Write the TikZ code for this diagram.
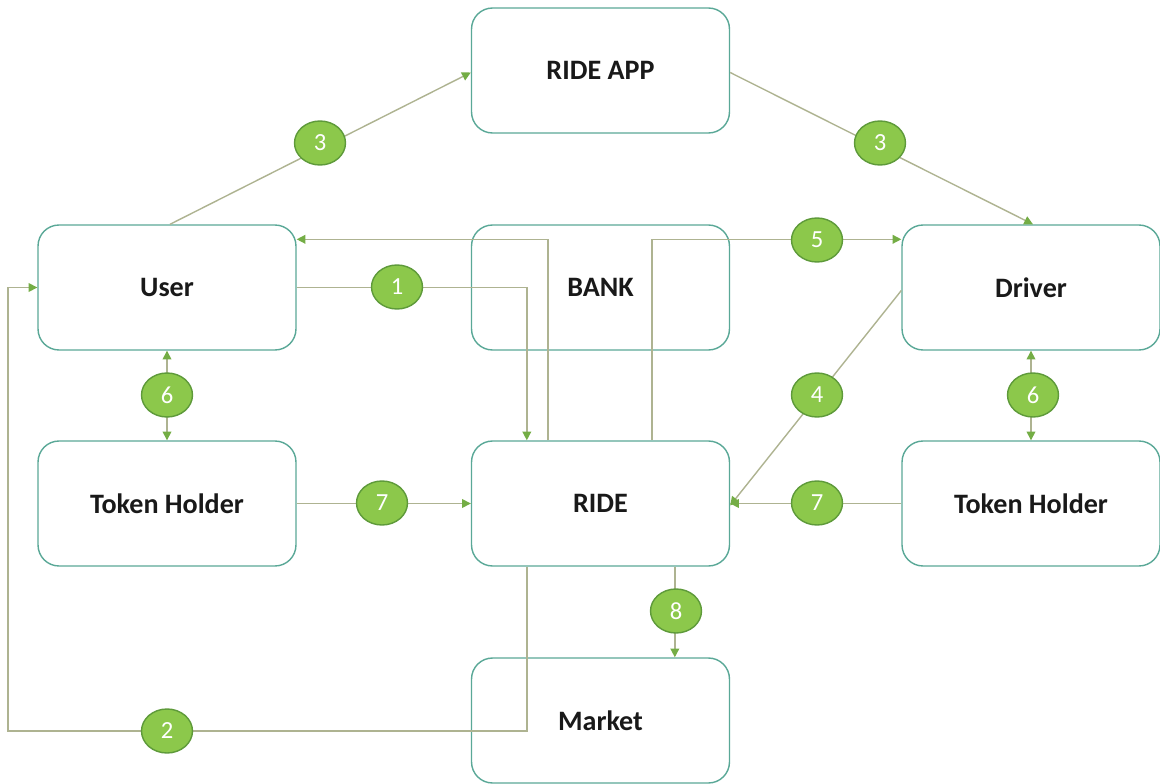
\documentclass[tikz,border=0pt]{standalone}
\usepackage{fontspec}
\setmainfont{Carlito}
\usetikzlibrary{shapes.geometric,arrows.meta,calc}
\definecolor{boxc}{HTML}{5AA897}
\definecolor{linec}{HTML}{AEB391}
\definecolor{tipc}{HTML}{74AD45}
\definecolor{badgef}{HTML}{8CC84B}
\definecolor{badged}{HTML}{5E9A3A}
\tikzset{
  box/.style={draw=boxc, line width=0.8pt, rounded corners=0.42cm, minimum width=5.16cm, minimum height=2.5cm, font=\fontsize{16}{18}\selectfont\bfseries, text=black!90},
  conn/.style={draw=linec, line width=0.8pt},
  tip/.style={-{Triangle[length=5pt,width=5pt,color=tipc]}},
  dtip/.style={{Triangle[length=5pt,width=5pt,color=tipc]}-{Triangle[length=5pt,width=5pt,color=tipc]}},
  badge/.style={ellipse, draw=badged, fill=badgef, line width=0.8pt, minimum width=1.02cm, minimum height=0.88cm, inner sep=0pt, text=white, font=\fontsize{14}{16}\selectfont}
}
\begin{document}
\begin{tikzpicture}[x=0.02cm, y=-0.02cm]
\useasboundingbox (0,0) rectangle (1160,784);
\node[box] (app) at (600.5,70.5) {RIDE APP};
\node[box] (user) at (167,287.5) {User};
\node[box] (bank) at (600.5,287.5) {BANK};
\node[box] (driver) at (1031,287.5) {Driver};
\node[box] (thl) at (167,503.5) {Token Holder};
\node[box] (ride) at (600.5,503.5) {RIDE};
\node[box] (thr) at (1031,503.5) {Token Holder};
\node[box] (market) at (600.5,720.5) {Market};
\coordinate (ml) at (8,731);
% connectors
\draw[conn,tip] ($(user.north)+(3,0)$) -- ($(app.west)+(0,2)$);
\draw[conn,tip] ($(app.east)+(0,2)$) -- ($(driver.north)+(2,0)$);
\draw[conn,tip] ($(ride.north west)+(77,0)$) |- ($(user.north east)+(0,15)$);
\draw[conn,tip] (user.east) -| ($(ride.north west)+(56,0)$);
\draw[conn,tip] ($(ride.north west)+(181,0)$) |- ($(driver.north west)+(0,15)$);
\draw[conn,tip] ($(driver.west)+(0,3)$) -- ($(ride.east)+(0,2)$);
\draw[conn,dtip] (user.south) -- (thl.north);
\draw[conn,dtip] (driver.south) -- (thr.north);
\draw[conn,tip] (thl.east) -- (ride.west);
\draw[conn,tip] (thr.west) -- (ride.east);
\draw[conn,tip] ($(ride.south west)+(204,0)$) -- ($(market.north west)+(204,0)$);
\draw[conn,tip] ($(ride.south west)+(56,0)$) |- (ml) |- (user.west);
% badges
\node[badge] (b3a) at (320,143) {3};
\node[badge] (b3b) at (880,143) {3};
\node[badge] (b1) at (397,287) {1};
\node[badge] (b5) at (817,240) {5};
\node[badge] (b4) at (817,395) {4};
\node[badge] (b6a) at (167,395) {6};
\node[badge] (b6b) at (1033,395) {6};
\node[badge] (b7a) at (382,503) {7};
\node[badge] (b7b) at (817,503) {7};
\node[badge] (b8) at (676,611) {8};
\node[badge] (b2) at (167,731) {2};
\end{tikzpicture}
\end{document}
